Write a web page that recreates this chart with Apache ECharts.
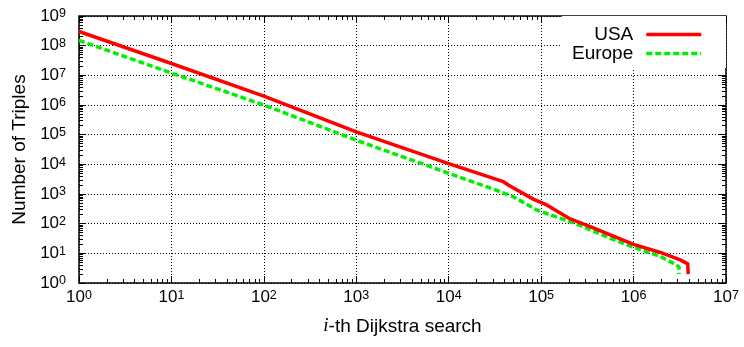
<!DOCTYPE html>
<html>
<head>
<meta charset="utf-8">
<script src="https://cdn.jsdelivr.net/npm/echarts@6/dist/echarts.min.js"></script>
<style>
  html, body { margin: 0; padding: 0; background: #fff; }
  #chart { width: 744px; height: 347px; }
</style>
</head>
<body>
<div id="chart"></div>
<script>
// Number of triples found by the i-th Dijkstra search (log-log)
const usaSearch     = [1, 10, 100, 1000, 1e4, 3.9e4, 4.6e4, 8.3e4, 1.15e5, 2.0e5, 3.4e5, 5.6e5, 1e6, 1.95e6, 3.2e6, 3.85e6, 3.9e6];
const usaTriples    = [3.0e8, 2.5e7, 2.0e6, 1.25e5, 1.05e4, 2.6e3, 1.86e3, 660, 427, 151, 80, 42, 20, 10.7, 6.0, 4.4, 2];
const europeSearch  = [1, 10, 100, 1000, 1e4, 3.6e4, 5.0e4, 8.9e4, 1.35e5, 2.24e5, 3.4e5, 5.6e5, 1e6, 1.95e6, 2.7e6, 3.1e6, 3.1e6];
const europeTriples = [1.5e8, 1.2e7, 1.0e6, 6.5e4, 5.0e3, 1.2e3, 810, 290, 182, 107, 62, 32, 16, 7.8, 4.6, 3.5, 2];

// Axis ranges as powers of ten
const xExpMin = 0, xExpMax = 7;
const yExpMin = 0, yExpMax = 9;

const FONT = '"Liberation Sans", Arial, Helvetica, sans-serif';

// Minor tick positions 2..9 inside every decade
function minorTicks(e0, e1) {
  const out = [];
  for (let e = e0; e < e1; e++) {
    for (let m = 2; m <= 9; m++) out.push(m * Math.pow(10, e));
  }
  return out;
}

function powerLabel(v) {
  const e = Math.round(Math.log10(v));
  return '{b|10}{s|' + e + '}';
}

const labelRich = {
  b: { fontSize: 17, fontFamily: FONT, color: '#000', lineHeight: 17, verticalAlign: 'bottom' },
  s: { fontSize: 12.5, fontFamily: FONT, color: '#000', lineHeight: 12, padding: [0, 0, 10, 0], verticalAlign: 'top' }
};

const MAJOR = 7, MINOR = 4;
const tickLine = { color: '#000', width: 1 };

function logAxis(min, max, position, opts) {
  return Object.assign({
    type: 'log',
    logBase: 10,
    min: min,
    max: max,
    position: position,
    axisLine: { show: false },
    axisTick: { show: true, inside: true, length: MAJOR, lineStyle: tickLine },
    axisLabel: { show: false },
    splitLine: { show: false },
    minorTick: { show: false },
    minorSplitLine: { show: false }
  }, opts || {});
}

const xMin = Math.pow(10, xExpMin), xMax = Math.pow(10, xExpMax);
const yMin = Math.pow(10, yExpMin), yMax = Math.pow(10, yExpMax);

const gridLine = { show: true, lineStyle: { color: '#000', width: 1, type: [1, 2] } };

const option = {
  animation: false,
  backgroundColor: '#fff',
  grid: {
    left: 79, right: 18, top: 16, bottom: 64,
    show: true, borderColor: '#000', borderWidth: 1.5, backgroundColor: 'transparent',
    containLabel: false, outerBoundsMode: 'none'
  },
  legend: {
    data: ['USA', 'Europe'],
    orient: 'vertical',
    right: 18,
    top: 16,
    align: 'right',
    itemWidth: 55,
    itemHeight: 14,
    itemGap: 0,
    padding: [9, 23, 5, 10],
    backgroundColor: '#fff',
    itemStyle: { opacity: 0 },
    lineStyle: { width: 3.5 },
    textStyle: { fontSize: 19, fontFamily: FONT, color: '#000', lineHeight: 19, padding: [0, 8, 0, 0] }
  },
  xAxis: [
    logAxis(xMin, xMax, 'bottom', {
      splitNumber: xExpMax - xExpMin,
      axisLabel: { show: true, margin: 6, fontSize: 17, fontFamily: FONT, color: '#000', formatter: powerLabel, rich: labelRich },
      splitLine: gridLine,
      name: '{i|i}-th Dijkstra search',
      nameLocation: 'middle',
      nameGap: 31,
      nameTextStyle: {
        fontSize: 19, fontFamily: FONT, color: '#000',
        rich: { i: { fontSize: 19, fontFamily: '"Liberation Serif", "Times New Roman", serif', fontStyle: 'italic', color: '#000' } }
      }
    }),
    logAxis(xMin, xMax, 'top', { splitNumber: xExpMax - xExpMin }),
    logAxis(xMin, xMax, 'bottom', {
      axisTick: { show: true, inside: true, length: MINOR, customValues: minorTicks(xExpMin, xExpMax), lineStyle: tickLine }
    }),
    logAxis(xMin, xMax, 'top', {
      axisTick: { show: true, inside: true, length: MINOR, customValues: minorTicks(xExpMin, xExpMax), lineStyle: tickLine }
    })
  ],
  yAxis: [
    logAxis(yMin, yMax, 'left', {
      splitNumber: yExpMax - yExpMin,
      axisLabel: { show: true, margin: 13, fontSize: 17, fontFamily: FONT, color: '#000', formatter: powerLabel, rich: labelRich },
      splitLine: gridLine,
      name: 'Number of Triples',
      nameLocation: 'middle',
      nameGap: 47,
      nameTextStyle: { fontSize: 19, fontFamily: FONT, color: '#000' }
    }),
    logAxis(yMin, yMax, 'right', { splitNumber: yExpMax - yExpMin }),
    logAxis(yMin, yMax, 'left', {
      axisTick: { show: true, inside: true, length: MINOR, customValues: minorTicks(yExpMin, yExpMax), lineStyle: tickLine }
    }),
    logAxis(yMin, yMax, 'right', {
      axisTick: { show: true, inside: true, length: MINOR, customValues: minorTicks(yExpMin, yExpMax), lineStyle: tickLine }
    })
  ],
  series: [
    {
      name: 'USA',
      type: 'line',
      xAxisIndex: 0, yAxisIndex: 0,
      data: usaSearch.map((x, i) => [x, usaTriples[i]]),
      symbol: 'none',
      lineStyle: { color: '#ff0000', width: 3.5, type: 'solid', cap: 'butt', join: 'round' },
      itemStyle: { color: '#ff0000' },
      z: 3
    },
    {
      name: 'Europe',
      type: 'line',
      xAxisIndex: 0, yAxisIndex: 0,
      data: europeSearch.map((x, i) => [x, europeTriples[i]]),
      symbol: 'none',
      lineStyle: { color: '#00ee00', width: 3.5, type: [6, 3], cap: 'butt', join: 'round' },
      itemStyle: { color: '#00ee00' },
      z: 2
    }
  ]
};

const chart = echarts.init(document.getElementById('chart'), null, { renderer: 'canvas' });
chart.setOption(option);
</script>
</body>
</html>
